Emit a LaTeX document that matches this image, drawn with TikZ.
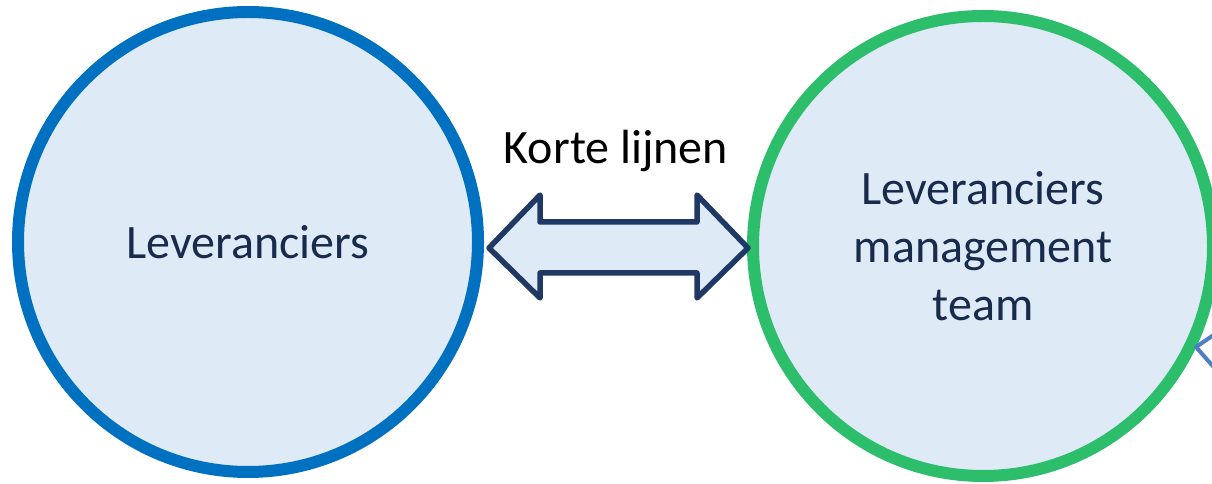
\documentclass[tikz,border=0pt]{standalone}
\usepackage{fontspec}
\setmainfont{Carlito}
\definecolor{cblue}{HTML}{0070C0}
\definecolor{cgreen}{HTML}{2DBE6C}
\definecolor{cfill}{HTML}{DEEAF6}
\definecolor{cnavy}{HTML}{1F3864}
\definecolor{ctext}{HTML}{182B4C}
\definecolor{cfrag}{HTML}{4F7EC4}
\begin{document}
\begin{tikzpicture}[x=1pt,y=1pt,
  circ/.style={circle,minimum size=460pt,inner sep=0pt,line width=12pt,fill=cfill,
    text=ctext,font=\fontsize{48}{58}\selectfont,align=center},
  barrow/.style={draw=cnavy,fill=cfill,line width=5.5pt,line join=round}]
\useasboundingbox (0,0) rectangle (1212,484);
\clip (0,0) rectangle (1212,484);
\node[circ,draw=cblue] (L) at (248,242) {Leveranciers};
\node[circ,draw=cgreen] (R) at (983,238) {Leveranciers\\management\\team};
\node[font=\fontsize{48}{58}\selectfont,text=black] (K) at (616,333) {Korte lijnen};
\draw[barrow] (489,236) -- (540,289) -- (540,262) -- (697,262) -- (697,289)
  -- (748,236) -- (697,186) -- (697,211) -- (540,211) -- (540,186) -- cycle;
\draw[draw=cfrag,fill=white,line width=4pt,line join=round]
  (1196,137) -- (1218,152) -- (1218,112) -- cycle;
\end{tikzpicture}
\end{document}
